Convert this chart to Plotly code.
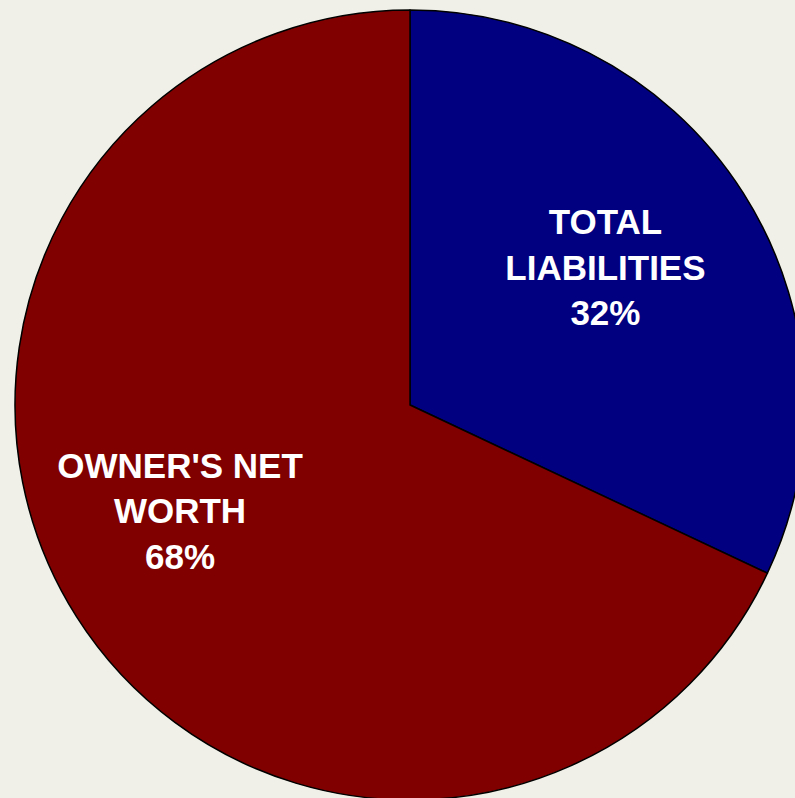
import plotly.graph_objects as go

labels = ["TOTAL<br>LIABILITIES", "OWNER'S NET<br>WORTH"]
values = [32, 68]
colors = ["#000080", "#800000"]

NB = "\u00a0"
# text layout tweaks (purely presentational): blank line / side padding
templates = [
    "<br>".join(NB * 3 + line for line in ["TOTAL", "LIABILITIES", "%{percent:.0%}"]) + "<br>" + NB,
    "<br>".join(line + NB * 13 for line in ["OWNER'S NET", "WORTH", "%{percent:.0%}"]),
]

W, H = 820, 810
fig = go.Figure(go.Pie(
    labels=labels,
    values=values,
    sort=False,
    direction="clockwise",
    rotation=0,
    marker=dict(colors=colors, line=dict(color="#000000", width=1.5)),
    texttemplate=templates,
    textposition="inside",
    insidetextorientation="horizontal",
    textfont=dict(family="Liberation Sans, Arial", size=35, color="white", weight="bold"),
    hoverinfo="label+percent",
    domain=dict(x=[0, 1], y=[10 / H, 1 - 10 / H]),
    showlegend=False,
))
fig.update_layout(
    width=W, height=H, autosize=False,
    margin=dict(l=0, r=0, t=0, b=0, pad=0),
    paper_bgcolor="#F0F0E8",
    plot_bgcolor="#F0F0E8",
)
fig.write_html(
    "out.html",
    config={"displayModeBar": False},
    post_script="document.body.style.margin='0';document.body.style.overflow='hidden';"
                "document.documentElement.style.overflow='hidden';document.body.style.background='#F0F0E8';",
)
